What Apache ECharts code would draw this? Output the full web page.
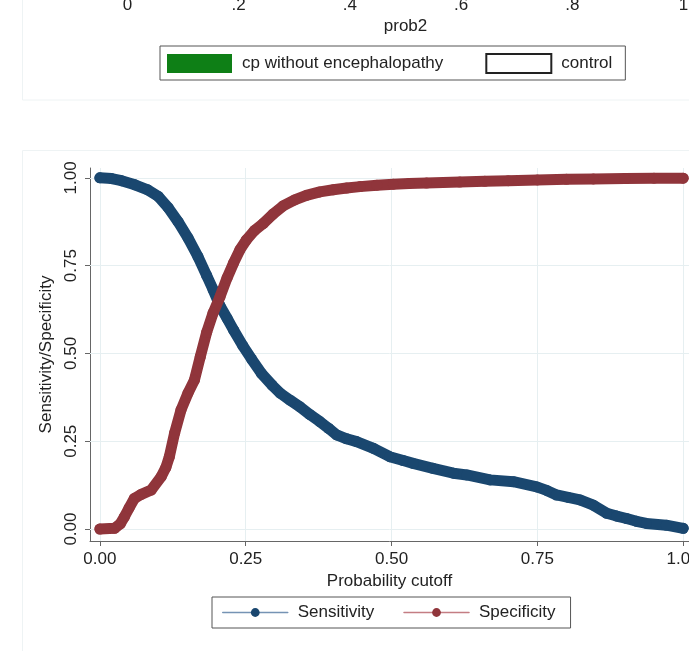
<!DOCTYPE html>
<html>
<head>
<meta charset="utf-8">
<script src="https://cdn.jsdelivr.net/npm/echarts@6/dist/echarts.min.js"></script>
<style>
  html, body { margin: 0; padding: 0; background: #fff; }
  #chart { width: 689px; height: 651px; }
</style>
</head>
<body>
<div id="chart"></div>
<script>
// tick values / labels
var cutoffTicks = [0, 0.25, 0.5, 0.75, 1];
var prob2Ticks = [0, 0.2, 0.4, 0.6, 0.8, 1];
var prob2Labels = ['0', '.2', '.4', '.6', '.8', '1'];
var topLegendNames = ['cp without encephalopathy', 'control'];

// sensitivity curve
var sensCutoff = [0.000, 0.020, 0.037, 0.060, 0.082, 0.100, 0.117, 0.134, 0.151, 0.168,
  0.183, 0.194, 0.206, 0.218, 0.229, 0.245, 0.260, 0.277, 0.295, 0.309,
  0.326, 0.343, 0.360, 0.377, 0.392, 0.406, 0.423, 0.440, 0.469, 0.497,
  0.520, 0.537, 0.571, 0.606, 0.629, 0.669, 0.709, 0.749, 0.766, 0.783,
  0.803, 0.823, 0.846, 0.869, 0.886, 0.903, 0.920, 0.937, 0.971, 1.000];
var sensValue = [1.000, 0.998, 0.992, 0.980, 0.966, 0.947, 0.915, 0.875, 0.829, 0.776,
  0.722, 0.682, 0.635, 0.600, 0.567, 0.522, 0.484, 0.443, 0.410, 0.387,
  0.367, 0.348, 0.326, 0.306, 0.287, 0.268, 0.257, 0.249, 0.230, 0.206,
  0.195, 0.187, 0.173, 0.159, 0.154, 0.140, 0.135, 0.120, 0.110, 0.097,
  0.090, 0.083, 0.068, 0.045, 0.037, 0.030, 0.022, 0.016, 0.011, 0.002];

// specificity curve
var specCutoff = [0.000, 0.025, 0.035, 0.042, 0.050, 0.059, 0.070, 0.088, 0.105, 0.113,
  0.119, 0.128, 0.139, 0.151, 0.162, 0.172, 0.183, 0.194, 0.206, 0.218,
  0.229, 0.240, 0.251, 0.265, 0.280, 0.297, 0.314, 0.334, 0.354, 0.377,
  0.400, 0.423, 0.446, 0.475, 0.503, 0.530, 0.560, 0.617, 0.660, 0.700,
  0.750, 0.800, 0.846, 0.900, 0.950, 1.000];
var specValue = [0.000, 0.002, 0.015, 0.035, 0.060, 0.087, 0.098, 0.111, 0.149, 0.175,
  0.206, 0.273, 0.339, 0.387, 0.424, 0.490, 0.560, 0.615, 0.662, 0.715,
  0.757, 0.795, 0.823, 0.850, 0.870, 0.897, 0.920, 0.937, 0.950, 0.960,
  0.966, 0.971, 0.975, 0.979, 0.982, 0.984, 0.985, 0.988, 0.990, 0.992,
  0.994, 0.996, 0.997, 0.998, 0.999, 0.999];

var navy = '#1a476f';
var maroon = '#90353b';
var font = "'Liberation Sans', Arial, Helvetica, sans-serif";
var gridColor = '#e6eff1';
var axisColor = '#666';

function pairs(xs, ys) {
  return xs.map(function (x, i) { return [x, ys[i]]; });
}

var gridLines = cutoffTicks.map(function (v) { return { xAxis: v }; })
  .concat(cutoffTicks.map(function (v) { return { yAxis: v }; }));

var chart = echarts.init(document.getElementById('chart'));

var option = {
  animation: false,
  backgroundColor: '#fff',
  textStyle: { fontFamily: font },
  graphic: [
    { type: 'rect', shape: { x: 22.5, y: -10, width: 700, height: 110 },
      style: { fill: 'none', stroke: '#eef3f4', lineWidth: 1 }, z: -1 },
    { type: 'rect', shape: { x: 22.5, y: 150.5, width: 700, height: 560 },
      style: { fill: 'none', stroke: '#eef3f4', lineWidth: 1 }, z: -1 }
  ],
  grid: [
    { left: 90, right: 0, top: 168, bottom: 110, outerBoundsMode: 'none' },
    { left: 127.5, width: 556, top: -300, height: 289, outerBoundsMode: 'none' }
  ],
  legend: [
    {
      data: [
        { name: 'Sensitivity', itemStyle: { color: navy }, lineStyle: { color: '#7593b4', width: 1.5 } },
        { name: 'Specificity', itemStyle: { color: maroon }, lineStyle: { color: '#c47d83', width: 1.5 } }
      ],
      left: 212, top: 597,
      padding: [7, 15, 7, 10],
      itemWidth: 65, itemHeight: 11, itemGap: 29,
      borderColor: '#555', borderWidth: 1, borderRadius: 0,
      textStyle: { fontSize: 17, color: '#222', fontFamily: font, padding: [0, 0, 0, 5] }
    },
    {
      data: [
        { name: topLegendNames[0], icon: 'rect' },
        { name: topLegendNames[1], icon: 'rect' }
      ],
      left: 160, top: 46,
      padding: [7, 13, 6, 7],
      itemWidth: 65, itemHeight: 19, itemGap: 42,
      borderColor: '#555', borderWidth: 1, borderRadius: 0,
      textStyle: { fontSize: 17, color: '#222', fontFamily: font, padding: [0, 0, 0, 5] }
    }
  ],
  xAxis: [
    {
      gridIndex: 0, type: 'value', min: -0.017, max: 1.01,
      name: 'Probability cutoff', nameLocation: 'middle', nameGap: 27,
      nameTextStyle: { fontSize: 17, color: '#222', fontFamily: font },
      axisLine: { show: true, onZero: false, lineStyle: { color: axisColor, width: 1 } },
      axisTick: { show: true, length: 5, customValues: cutoffTicks, lineStyle: { color: axisColor } },
      axisLabel: { customValues: cutoffTicks, margin: 10, fontSize: 17, color: '#222', fontFamily: font,
        formatter: function (v) { return v.toFixed(2); } },
      splitLine: { show: false }
    },
    {
      gridIndex: 1, type: 'value', min: 0, max: 1,
      name: 'prob2', nameLocation: 'middle', nameGap: 29,
      nameTextStyle: { fontSize: 17, color: '#222', fontFamily: font },
      axisLine: { show: false },
      axisTick: { show: false },
      axisLabel: { customValues: prob2Ticks, margin: 8, fontSize: 17, color: '#222', fontFamily: font,
        formatter: function (v) {
          for (var i = 0; i < prob2Ticks.length; i++) {
            if (Math.abs(prob2Ticks[i] - v) < 1e-9) return prob2Labels[i];
          }
          return '';
        } },
      splitLine: { show: false }
    }
  ],
  yAxis: [
    {
      gridIndex: 0, type: 'value', min: -0.034, max: 1.028,
      name: 'Sensitivity/Specificity', nameLocation: 'middle', nameGap: 25,
      nameTextStyle: { fontSize: 17, color: '#222', fontFamily: font },
      axisLine: { show: true, onZero: false, lineStyle: { color: axisColor, width: 1 } },
      axisTick: { show: true, length: 5, customValues: cutoffTicks, lineStyle: { color: axisColor } },
      axisLabel: { customValues: cutoffTicks, margin: 10, rotate: 90, fontSize: 17, color: '#222', fontFamily: font,
        formatter: function (v) { return v.toFixed(2); } },
      splitLine: { show: false }
    },
    { gridIndex: 1, type: 'value', show: false }
  ],
  series: [
    {
      name: 'Sensitivity', type: 'line', xAxisIndex: 0, yAxisIndex: 0,
      data: pairs(sensCutoff, sensValue),
      symbol: 'circle', symbolSize: 11, showSymbol: true,
      itemStyle: { color: navy },
      lineStyle: { color: navy, width: 11, cap: 'round', join: 'round' },
      z: 3
    },
    {
      name: 'Specificity', type: 'line', xAxisIndex: 0, yAxisIndex: 0,
      data: pairs(specCutoff, specValue),
      symbol: 'circle', symbolSize: 11, showSymbol: true,
      itemStyle: { color: maroon },
      lineStyle: { color: maroon, width: 11, cap: 'round', join: 'round' },
      z: 4,
      markLine: {
        silent: true, symbol: 'none', z: 1,
        label: { show: false },
        lineStyle: { color: gridColor, width: 1, type: 'solid' },
        data: gridLines
      }
    },
    {
      name: topLegendNames[0], type: 'bar', xAxisIndex: 1, yAxisIndex: 1, data: [],
      itemStyle: { color: '#0e7f16' }
    },
    {
      name: topLegendNames[1], type: 'bar', xAxisIndex: 1, yAxisIndex: 1, data: [],
      itemStyle: { color: '#fff', borderColor: '#222', borderWidth: 1 }
    }
  ]
};

chart.setOption(option);
</script>
</body>
</html>
